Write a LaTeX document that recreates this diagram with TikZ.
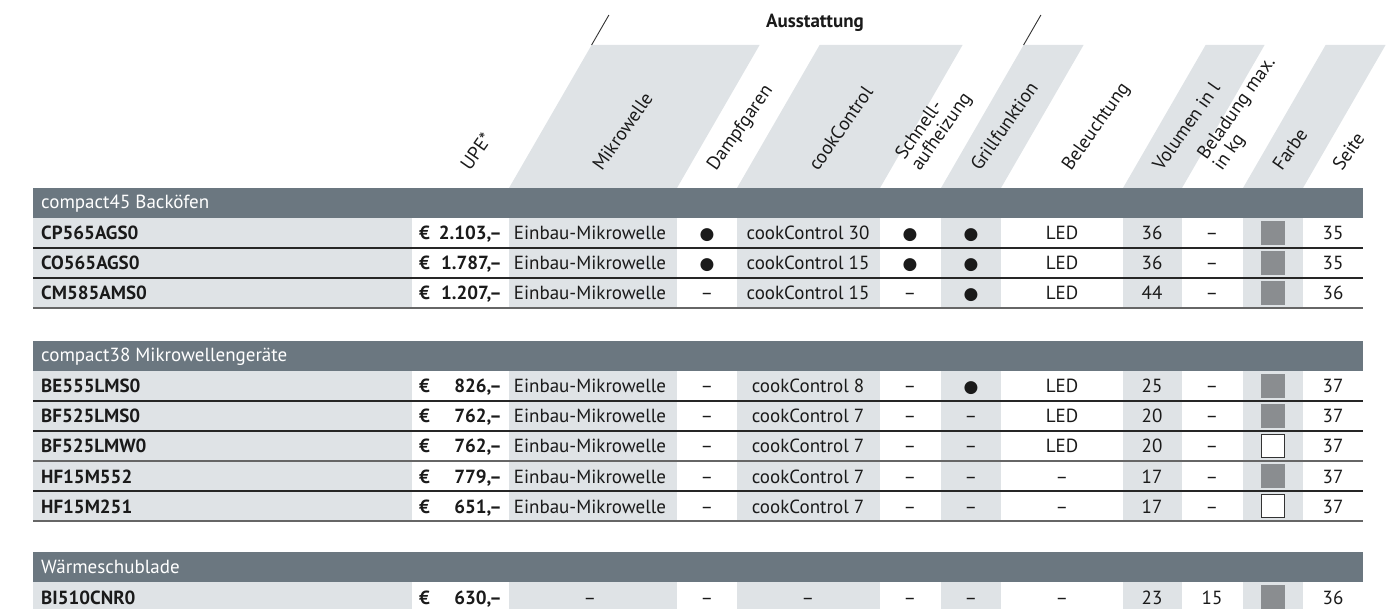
\documentclass[tikz,border=0pt]{standalone}
\usepackage{fontspec}
\setmainfont{PT Sans}
\newfontfamily\symfont{DejaVu Sans}

\definecolor{barcol}{HTML}{6B7780}
\definecolor{colgrey}{HTML}{DFE3E6}
\definecolor{swgrey}{HTML}{8A8D90}
\definecolor{txt}{HTML}{1A1A1A}

\newcommand{\yes}{{\symfont\fontsize{17}{17}\selectfont ●}}

\tikzset{
  every node/.style={inner sep=0pt, text=txt, font=\fontsize{19}{22}\selectfont},
  hdr/.style={rotate=55, anchor=base west},
  cell/.style={anchor=base},
  model/.style={anchor=base west, font=\fontsize{19}{22}\selectfont\bfseries},
  bartext/.style={anchor=base west, text=white},
  swatchg/.style={minimum size=24pt, fill=swgrey},
  swatchw/.style={minimum size=23pt, fill=white, draw=black!80, line width=1pt},
  thinrule/.style={draw=black!85, line width=1.1pt},
  thickrule/.style={draw=black!60, line width=2.4pt},
}

\begin{document}
\begin{tikzpicture}[x=1pt,y=-1pt]
  \useasboundingbox (0,0) rectangle (1390,609);

  %-----------------------------
  % Header: slanted stripes over the grey columns
  \def\stripe#1#2{\fill[colgrey] (#1,188) -- (#2,188) -- ({#2+82.6},45) -- ({#1+82.6},45) -- cycle;}
  \stripe{509}{677}
  \stripe{737}{880}
  \stripe{941}{1001}
  \stripe{1123}{1182}
  \stripe{1243}{1303}

  % group title between two slashes
  \node[anchor=base, font=\fontsize{19}{22}\selectfont\bfseries] (ausst) at (815,28) {Ausstattung};
  \coordinate (slashA) at (591.6,45);
  \coordinate (slashB) at (1023.6,45);
  \draw[black!80, line width=0.9pt] (slashA) -- ++(17.3,-30);
  \draw[black!80, line width=0.9pt] (slashB) -- ++(17.3,-30);

  % column titles (start of last line sits on the column centre)
  \node[hdr] (hUPE)   at (470,172)  {UPE*};
  \node[hdr] (hMikro) at (602,172)  {Mikrowelle};
  \node[hdr] (hDampf) at (716,172)  {Dampfgaren};
  \node[hdr] (hCook)  at (818,172)  {cookControl};
  \node[hdr] (hSchnB) at (920,172)  {aufheizung};
  \node[hdr] (hSchnA) at (904.4,161.1) {Schnell-};
  \node[hdr] (hGrill) at (980,172)  {Grillfunktion};
  \node[hdr] (hBel)   at (1071,172) {Beleuchtung};
  \node[hdr] (hVol)   at (1162,172) {Volumen in l};
  \node[hdr] (hKgB)   at (1222,172) {in kg};
  \node[hdr] (hKgA)   at (1206.4,161.1) {Beladung max.};
  \node[hdr] (hFarbe) at (1282,172) {Farbe};
  \node[hdr] (hSeite) at (1342,172) {Seite};

  %-----------------------------
  % Helpers for the table body
  \def\secbar#1#2#3{\fill[barcol] (33,#2) rectangle (1363,{#2+30});
    \node[bartext] (#1) at (41,{#2+21}) {#3};}
  \def\greycols#1#2{%
    \fill[colgrey] (33,#1) rectangle (412,#2);
    \fill[colgrey] (509,#1) rectangle (677,#2);
    \fill[colgrey] (737,#1) rectangle (880,#2);
    \fill[colgrey] (941,#1) rectangle (1001,#2);
    \fill[colgrey] (1123,#1) rectangle (1182,#2);
    \fill[colgrey] (1243,#1) rectangle (1303,#2);}
  % left half of a row: id, top, model, price, mikrowelle, dampf, cookControl
  \def\rowL#1#2#3#4#5#6#7{%
    \node[model] (#1) at (41,{#2+22}) {#3};
    \node[model] (#1eur) at (419,{#2+22}) {€};
    \node[model, anchor=base east] (#1upe) at (502,{#2+22}) {#4};
    \node[cell] (#1mw) at (590,{#2+22}) {#5};
    \node[cell] (#1dg) at (707,{#2+22}) {#6};
    \node[cell] (#1cc) at (808,{#2+22}) {#7};}
  % right half: id, top, schnell, grill, licht, volumen, kg, swatch, seite
  \def\rowR#1#2#3#4#5#6#7#8#9{%
    \node[cell] (#1sa) at (910,{#2+22}) {#3};
    \node[cell] (#1gf) at (971,{#2+22}) {#4};
    \node[cell] (#1led) at (1062,{#2+22}) {#5};
    \node[cell] (#1vol) at (1152,{#2+22}) {#6};
    \node[cell] (#1kg) at (1212,{#2+22}) {#7};
    \node[#8] (#1col) at (1273,{#2+15}) {};
    \node[cell] (#1pg) at (1333,{#2+22}) {#9};}

  %-----------------------------
  % compact45 Backöfen
  \secbar{secA}{188}{compact45 Backöfen}
  \greycols{218}{308}
  \rowL{cpA}{218}{CP565AGS0}{2.103,–}{Einbau-Mikrowelle}{\yes}{cookControl 30}
  \rowR{cpA}{218}{\yes}{\yes}{LED}{36}{–}{swatchg}{35}
  \rowL{coA}{248}{CO565AGS0}{1.787,–}{Einbau-Mikrowelle}{\yes}{cookControl 15}
  \rowR{coA}{248}{\yes}{\yes}{LED}{36}{–}{swatchg}{35}
  \rowL{cmA}{278}{CM585AMS0}{1.207,–}{Einbau-Mikrowelle}{–}{cookControl 15}
  \rowR{cmA}{278}{–}{\yes}{LED}{44}{–}{swatchg}{36}
  \draw[thinrule] (33,248) -- (1363,248);
  \draw[thinrule] (33,278) -- (1363,278);
  \draw[thickrule] (33,308) -- (1363,308);

  %-----------------------------
  % compact38 Mikrowellengeräte
  \secbar{secB}{341}{compact38 Mikrowellengeräte}
  \greycols{371}{521}
  \rowL{beB}{371}{BE555LMS0}{826,–}{Einbau-Mikrowelle}{–}{cookControl 8}
  \rowR{beB}{371}{–}{\yes}{LED}{25}{–}{swatchg}{37}
  \rowL{bfB}{401}{BF525LMS0}{762,–}{Einbau-Mikrowelle}{–}{cookControl 7}
  \rowR{bfB}{401}{–}{–}{LED}{20}{–}{swatchg}{37}
  \rowL{bwB}{431}{BF525LMW0}{762,–}{Einbau-Mikrowelle}{–}{cookControl 7}
  \rowR{bwB}{431}{–}{–}{LED}{20}{–}{swatchw}{37}
  \rowL{hsB}{461}{HF15M552}{779,–}{Einbau-Mikrowelle}{–}{cookControl 7}
  \rowR{hsB}{461}{–}{–}{–}{17}{–}{swatchg}{37}
  \rowL{hwB}{491}{HF15M251}{651,–}{Einbau-Mikrowelle}{–}{cookControl 7}
  \rowR{hwB}{491}{–}{–}{–}{17}{–}{swatchw}{37}
  \draw[thinrule] (33,401) -- (1363,401);
  \draw[thinrule] (33,431) -- (1363,431);
  \draw[thickrule] (33,461) -- (1363,461);
  \draw[thinrule] (33,491) -- (1363,491);
  \draw[thickrule] (33,521) -- (1363,521);

  %-----------------------------
  % Wärmeschublade
  \secbar{secC}{552}{Wärmeschublade}
  \greycols{582}{612}
  \rowL{biC}{582}{BI510CNR0}{630,–}{–}{–}{–}
  \rowR{biC}{582}{–}{–}{–}{23}{15}{swatchg}{36}
\end{tikzpicture}
\end{document}
